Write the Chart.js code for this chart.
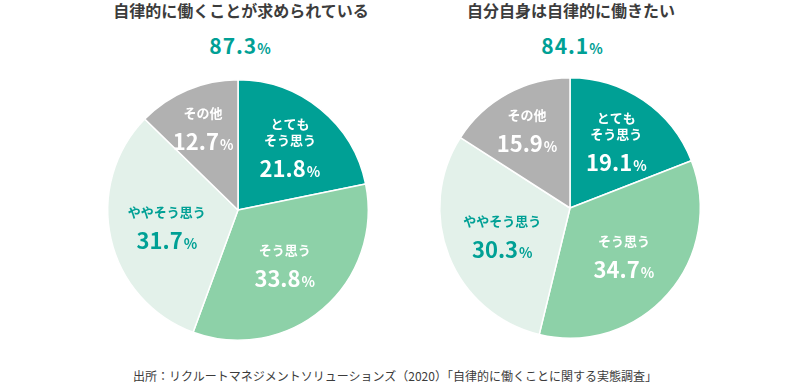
<!DOCTYPE html>
<html lang="ja">
<head>
<meta charset="utf-8">
<script src="https://cdn.jsdelivr.net/npm/chart.js@4/dist/chart.umd.min.js"></script>
<style>
	html, body { margin: 0; padding: 0; background: #fff; }
	body { width: 790px; height: 390px; position: relative; overflow: hidden; font-family: "Noto Sans CJK JP", "Noto Sans", sans-serif; color: #3c3c3c; }
	.titulo { position: absolute; width: 360px; text-align: center; font-size: 16px; font-weight: bold; line-height: 20px; }
	.total { position: absolute; width: 200px; text-align: center; font-size: 21px; font-weight: bold; color: #00a095; line-height: 24px; letter-spacing: 1px; }
	.total small { font-size: 14px; letter-spacing: 0; }
	.grafica { position: absolute; width: 300px; height: 300px; }
	.fuente { position: absolute; left: 0; width: 790px; top: 367px; text-align: center; font-size: 12px; line-height: 18px; }
</style>
</head>
<body>
<div class="titulo" id="titulo-1" style="left:61px; top:0px;"></div>
<div class="titulo" id="titulo-2" style="left:391px; top:0px;"></div>
<div class="total" id="total-1" style="left:140px; top:33px;"></div>
<div class="total" id="total-2" style="left:472px; top:33px;"></div>
<div class="grafica" style="left:88px; top:60px;"><canvas id="pie-1"></canvas></div>
<div class="grafica" style="left:420px; top:58px;"><canvas id="pie-2"></canvas></div>
<div class="fuente">出所：リクルートマネジメントソリューションズ（2020）「自律的に働くことに関する実態調査」</div>

<script>
	const categorias = [["とても", "そう思う"], ["そう思う"], ["ややそう思う"], ["その他"]];
	const titulos = ["自律的に働くことが求められている", "自分自身は自律的に働きたい"];
	const totales = [87.3, 84.1];
	const requerido = [21.8, 33.8, 31.7, 12.7];
	const deseado = [19.1, 34.7, 30.3, 15.9];
	const colores = ["#00a095", "#8dd1a8", "#e3f1ea", "#b1b1b1"];
	const coloresTexto = ["#ffffff", "#ffffff", "#00a095", "#ffffff"];

	const fuente = '"Noto Sans CJK JP", "Noto Sans", sans-serif';

	// etiquetas dentro de cada porción
	const etiquetas = {
		id: "etiquetas",
		afterDatasetsDraw(chart) {
			const c = chart.ctx;
			const meta = chart.getDatasetMeta(0);
			const valores = chart.data.datasets[0].data;
			const distancia = [0.63, 0.55, 0.56, 0.69];
			meta.data.forEach((arco, i) => {
				const p = arco.getProps(["x", "y", "startAngle", "endAngle", "outerRadius"], true);
				const medio = (p.startAngle + p.endAngle) / 2;
				const cx = p.x + Math.cos(medio) * p.outerRadius * distancia[i];
				const cy = p.y + Math.sin(medio) * p.outerRadius * distancia[i];
				const lineas = chart.data.labels[i];
				const alto = (lineas.length - 1) * 16 + 29;
				let y = cy - alto / 2;
				c.save();
				c.fillStyle = coloresTexto[i];
				c.textBaseline = "middle";
				c.textAlign = "center";
				c.font = "bold 13px " + fuente;
				lineas.forEach((l, j) => c.fillText(l, cx, y + j * 16));
				const ny = y + alto;
				const num = valores[i].toFixed(1);
				c.font = "bold 22px " + fuente;
				const w1 = c.measureText(num).width;
				c.font = "bold 14px " + fuente;
				const w2 = c.measureText("%").width;
				const x0 = cx - (w1 + w2 + 1) / 2;
				c.textAlign = "left";
				c.textBaseline = "alphabetic";
				c.font = "bold 22px " + fuente;
				c.fillText(num, x0, ny + 8);
				c.font = "bold 14px " + fuente;
				c.fillText("%", x0 + w1 + 1, ny + 8);
				c.restore();
			});
		},
	};

	function crearPie(id, datos) {
		new Chart(document.getElementById(id), {
			type: "pie",
			data: {
				labels: categorias,
				datasets: [
					{
						data: datos,
						backgroundColor: colores,
						borderColor: "#ffffff",
						borderWidth: 1.5,
					},
				],
			},
			options: {
				responsive: true,
				maintainAspectRatio: false,
				animation: false,
				layout: { padding: 19 },
				plugins: {
					legend: { display: false },
					tooltip: { enabled: false },
				},
			},
			plugins: [etiquetas],
		});
	}

	titulos.forEach((t, i) => {
		document.getElementById("titulo-" + (i + 1)).textContent = t;
		document.getElementById("total-" + (i + 1)).innerHTML = totales[i].toFixed(1) + "<small>%</small>";
	});

	crearPie("pie-1", requerido);
	crearPie("pie-2", deseado);
</script>
</body>
</html>
